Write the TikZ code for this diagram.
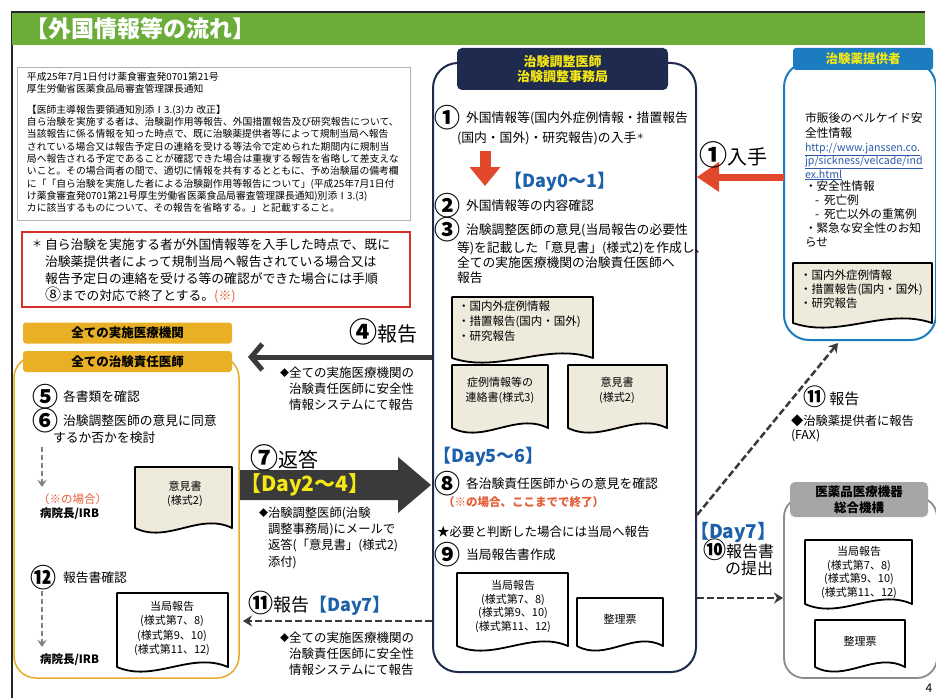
\documentclass[tikz,border=0pt]{standalone}
\usepackage{fontspec}
\setmainfont{Noto Sans CJK JP}
\usetikzlibrary{arrows.meta}
\definecolor{hdrgreen}{RGB}{108,173,58}
\definecolor{navy}{RGB}{30,43,78}
\definecolor{yel}{RGB}{245,232,20}
\definecolor{provblue}{RGB}{27,125,192}
\definecolor{dayblue}{RGB}{28,96,170}
\definecolor{orban}{RGB}{233,176,38}
\definecolor{orline}{RGB}{230,172,40}
\definecolor{redbox}{RGB}{214,48,40}
\definecolor{redarrow}{RGB}{226,72,44}
\definecolor{orred}{RGB}{228,92,52}
\definecolor{beige}{RGB}{238,235,221}
\definecolor{darkarrow}{RGB}{58,58,58}
\definecolor{grayban}{RGB}{166,166,166}
\definecolor{grayline}{RGB}{140,140,140}
\definecolor{urlblue}{RGB}{45,90,170}
\newcommand{\myfs}[2]{\fontsize{#1}{#2}\selectfont}
\newcommand{\cnum}[2]{\raisebox{-0.08em}{\fontsize{#1}{#1}\selectfont\bfseries #2}}
\newcommand{\mydoc}[5][]{\draw[#1] (#2,#3) -- (#4,#3) -- (#4,#5) .. controls ({#4-(#4-#2)/3},{#5-16}) and ({#2+(#4-#2)/3},{#5+16}) .. (#2,#5) -- cycle;}
\begin{document}
\begin{tikzpicture}[x=1pt,y=-1pt,
  every node/.style={inner sep=0pt,outer sep=0pt},
  txt/.style={anchor=west},
  blk/.style={anchor=north west,align=left},
  circ/.style={font=\myfs{26}{26}\bfseries},
  doc/.style={draw=black,line width=1.8pt,fill=beige,line join=round},
  docw/.style={draw=black,line width=1.8pt,fill=white,line join=round},
  dtext/.style={align=center,font=\myfs{11}{14.5}},
  body/.style={font=\myfs{12.8}{16}},
  gdash/.style={draw=gray,line width=1.6pt,dash pattern=on 5pt off 3pt,-{Stealth[length=7pt,width=9pt]}},
  kdash/.style={draw=darkarrow,line width=2.2pt,dash pattern=on 7pt off 3pt,-{Stealth[length=9pt,width=11pt]}},
]
\useasboundingbox (0,0) rectangle (936,698);
\fill[white] (0,0) rectangle (936,698);
\draw[line width=1.2pt,black!85] (12,698) -- (12,12) -- (925,12);
\fill[hdrgreen] (12,13) rectangle (925,45);
\node[txt,font=\myfs{23}{24}\bfseries,text=white] (title) at (25,29) {【外国情報等の流れ】};

% ---- notice box
\node[draw=gray!60,line width=0.6pt,anchor=north west,minimum width=393pt,minimum height=153pt] (noticebox) at (17,67) {};
\node[blk,font=\myfs{9.8}{12}] (notice1) at (27,72) {平成25年7月1日付け薬食審査発0701第21号\\厚生労働省医薬食品局審査管理課長通知};
\node[blk,font=\myfs{9.8}{12.3}] (notice2) at (27,105) {【医師主導報告要領通知別添Ⅰ3.(3)カ\ 改正】\\
自ら治験を実施する者は、治験副作用等報告、外国措置報告及び研究報告について、\\
当該報告に係る情報を知った時点で、既に治験薬提供者等によって規制当局へ報告\\
されている場合又は報告予定日の連絡を受ける等法令で定められた期間内に規制当\\
局へ報告される予定であることが確認できた場合は重複する報告を省略して差支えな\\
いこと。その場合両者の間で、適切に情報を共有するとともに、予め治験届の備考欄\\
に「「自ら治験を実施した者による治験副作用等報告について」(平成25年7月1日付\\
け薬食審査発0701第21号厚生労働省医薬食品局審査管理課長通知)別添Ⅰ3.(3)\\
カに該当するものについて、その報告を省略する。」と記載すること。};

% ---- red box
\node[draw=redbox,line width=2.2pt,anchor=north west,minimum width=388pt,minimum height=75pt] (redbox) at (22,232) {};
\node[font=\myfs{10}{10}] (ast) at (37,244) {＊};
\node[blk,font=\myfs{12.8}{17}] (redtext) at (45,238.6) {自ら治験を実施する者が外国情報等を入手した時点で、既に\\治験薬提供者によって規制当局へ報告されている場合又は\\報告予定日の連絡を受ける等の確認ができた場合には手順\\{\fontsize{16}{16}\selectfont ⑧}までの対応で終了とする。\textcolor{orred}{(※)}};

% ---- left group
\node[draw=orline,line width=1.5pt,rounded corners=22pt,anchor=north west,minimum width=225pt,minimum height=322pt] (sitebox) at (14,356) {};
\node[fill=orban,rounded corners=3pt,minimum width=209pt,minimum height=21pt,font=\myfs{12.5}{13}\bfseries] (site) at (127.5,333) {全ての実施医療機関};
\node[fill=orban,rounded corners=3pt,minimum width=209pt,minimum height=21pt,font=\myfs{12.5}{13}\bfseries] (pi) at (127.5,361.5) {全ての治験責任医師};
\node[circ] (c5) at (45,397) {⑤};
\node[txt,body] (t5) at (63,397) {各書類を確認};
\node[circ] (c6) at (45,421) {⑥};
\node[txt,body] (t6) at (63,421) {治験調整医師の意見に同意};
\node[txt,body] (t6b) at (53,438) {するか否かを検討};
\coordinate (d1s) at (42,447);
\coordinate (d1e) at (42,487);
\draw[gdash] (d1s) -- (d1e);
\node[txt,font=\myfs{11.5}{12},text=orred] (case1) at (38,499) {（※の場合）};
\node[txt,font=\myfs{11.5}{12}\bfseries] (irb1) at (40,514) {病院長/IRB};
\mydoc[doc]{135}{467}{232}{528}
\node[dtext] (lop) at (185,494) {意見書\\(様式2)};
\node[circ] (c12) at (43,578) {⑫};
\node[txt,body] (t12) at (63,578) {報告書確認};
\coordinate (d2s) at (42,591);
\coordinate (d2e) at (42,647);
\draw[gdash] (d2s) -- (d2e);
\node[txt,font=\myfs{11.5}{12}\bfseries] (irb2) at (40,660) {病院長/IRB};
\mydoc[docw]{117}{593}{228}{667}
\node[dtext,font=\myfs{11}{14.3}] (lrep) at (172,628.5) {当局報告\\(様式第7、8)\\(様式第9、10)\\(様式第11、12)};

% ---- center group
\node[draw=navy,line width=2pt,rounded corners=25pt,anchor=north west,minimum width=263pt,minimum height=609pt] (coord) at (433,63) {};
\node[fill=navy,rounded corners=5pt,minimum width=211pt,minimum height=42pt,font=\myfs{13}{15}\bfseries,text=yel,align=center] (coordh) at (562.5,69) {治験調整医師\\治験調整事務局};
\node[circ] (c1) at (447,118) {①};
\node[txt,body] (t1) at (466,118) {外国情報等(国内外症例情報・措置報告};
\node[txt,body] (t1b) at (457,138) {(国内・国外)・研究報告)の入手\raisebox{3pt}{\myfs{8}{8}＊}};
\coordinate (r2s) at (485,151);
\coordinate (r2e) at (485,186);
\draw[redarrow,line width=11pt,-{Triangle[length=19pt,width=31pt,line width=0pt]}] (r2s) -- (r2e);
\node[font=\myfs{18}{19}\bfseries,text=dayblue] (day01) at (560,182) {【Day0～1】};
\node[circ] (c2) at (447,206) {②};
\node[txt,body] (t2) at (466,206) {外国情報等の内容確認};
\node[circ] (c3) at (447,230) {③};
\node[txt,body] (t3) at (466,230) {治験調整医師の意見(当局報告の必要性};
\node[blk,font=\myfs{12.8}{15}] (t3b) at (457,241.6) {等)を記載した「意見書」(様式2)を作成し、\\全ての実施医療機関の治験責任医師へ\\報告};
\mydoc[doc]{452}{297}{593}{358}
\node[blk,font=\myfs{11.5}{15}] (cd1) at (458,301.3) {・国内外症例情報\\・措置報告(国内・国外)\\・研究報告};
\mydoc[doc]{452}{365}{548}{428}
\node[dtext] (cd2) at (500,390.5) {症例情報等の\\連絡書(様式3)};
\mydoc[doc]{568}{365}{667}{428}
\node[dtext] (cd3) at (617,390.5) {意見書\\(様式2)};
\node[txt,font=\myfs{18}{19}\bfseries,text=dayblue] (day56) at (433,457) {【Day5～6】};
\node[circ] (c8) at (447,484) {⑧};
\node[txt,body] (t8) at (466,484) {各治験責任医師からの意見を確認};
\node[txt,font=\myfs{11.5}{12}\bfseries,text=orred] (t8b) at (443,502) {（※の場合、ここまでで終了）};
\node[txt,font=\myfs{12.5}{13}] (star) at (437,532) {★必要と判断した場合には当局へ報告};
\node[circ] (c9) at (447,555) {⑨};
\node[txt,body] (t9) at (466,555) {当局報告書作成};
\mydoc[docw]{457}{573}{568}{646}
\node[dtext,font=\myfs{11}{13.7}] (cd4) at (513,606.5) {当局報告\\(様式第7、8)\\(様式第9、10)\\(様式第11、12)};
\mydoc[docw]{577}{598}{663}{646}
\node[dtext] (cd5) at (620,619) {整理票};

% ---- provider group
\node[draw=provblue,line width=2pt,rounded corners=25pt,anchor=north west,minimum width=152pt,minimum height=278pt] (prov) at (784,62) {};
\node[fill=provblue,rounded corners=3pt,minimum width=140pt,minimum height=22pt,font=\myfs{12.5}{13}\bfseries,text=yel] (provh) at (863,59) {治験薬提供者};
\node[blk,font=\myfs{11.8}{15}] (pv1) at (805,112.1) {市販後のベルケイド安\\全性情報};
\node[anchor=base west,font=\myfs{10.6}{12},text=urlblue] (url1) at (805,151) {\underline{http://www.janssen.co.}};
\node[anchor=base west,font=\myfs{10.6}{12},text=urlblue] (url2) at (805,164.5) {\underline{jp/sickness/velcade/ind}};
\node[anchor=base west,font=\myfs{10.6}{12},text=urlblue] (url3) at (805,178) {\underline{ex.html}};
\node[blk,font=\myfs{11.6}{14}] (pv2) at (805,181.2) {・安全性情報\\\hspace{10pt}-\hspace{5pt}死亡例\\\hspace{10pt}-\hspace{5pt}死亡以外の重篤例\\・緊急な安全性のお知\\らせ};
\mydoc[doc]{793}{263}{932}{323}
\node[blk,font=\myfs{11.5}{14}] (pd0) at (800,270.2) {・国内外症例情報\\・措置報告(国内・国外)\\・研究報告};

% ---- PMDA group
\node[draw=grayline,line width=1.8pt,rounded corners=20pt,anchor=north west,minimum width=153pt,minimum height=181pt] (pmda) at (784,497) {};
\node[fill=grayban,rounded corners=5pt,minimum width=138pt,minimum height=35pt,font=\myfs{12.5}{16}\bfseries,align=center] (pmdah) at (859,499.5) {医薬品医療機器\\総合機構};
\mydoc[docw]{805}{540}{912}{604}
\node[dtext,font=\myfs{11}{13.7}] (pd1) at (859,572.5) {当局報告\\(様式第7、8)\\(様式第9、10)\\(様式第11、12)};
\mydoc[docw]{815}{620}{905}{667}
\node[dtext] (pd2) at (860,641) {整理票};

% ---- connectors
\coordinate (r1s) at (784,177);
\coordinate (r1e) at (697,177);
\draw[redarrow,line width=7pt,-{Triangle[length=22pt,width=30pt,line width=0pt]}] (r1s) -- (r1e);
\node[txt,font=\myfs{20}{21}] (lab1) at (699,155) {\cnum{28}{①}入手};

\coordinate (a4s) at (432,357);
\coordinate (a4e) at (248,357);
\draw[darkarrow,line width=5pt,-{Straight Barb[length=11pt,width=26pt]}] (a4s) -- (a4e);
\node[txt,font=\myfs{20}{21}] (lab4) at (349,332) {\cnum{28}{④}報告};
\node[anchor=east,font=\myfs{9}{10}] (dia4) at (289,373) {◆};
\node[blk,font=\myfs{12.5}{16.3}] (rep4) at (289,366.7) {全ての実施医療機関の\\治験責任医師に安全性\\情報システムにて報告};

\coordinate (a7s) at (240,485);
\coordinate (a7e) at (431,485);
\fill[darkarrow] (240,470) -- (398,470) -- (398,457) -- (a7e) -- (398,513) -- (398,500) -- (240,500) -- cycle;
\node[txt,font=\myfs{20}{21}] (lab7) at (250,458) {\cnum{28}{⑦}返答};
\node[txt,font=\myfs{21}{22}\bfseries,text=yel] (day24) at (240,485) {【Day2～4】};
\node[anchor=east,font=\myfs{9}{10}] (dia7) at (268,513) {◆};
\node[blk,font=\myfs{12.3}{16.3}] (rep7) at (268,506.8) {治験調整医師(治験\\調整事務局)にメールで\\返答(「意見書」(様式2)\\添付)};

\coordinate (a11s) at (432,621);
\coordinate (a11e) at (243,621);
\draw[kdash] (a11s) -- (a11e);
\node[txt,font=\myfs{18}{19}] (lab11) at (248,603) {\cnum{25}{⑪}報告\textcolor{dayblue}{\bfseries【Day7】}};
\node[anchor=east,font=\myfs{9}{10}] (dia11) at (289,638) {◆};
\node[blk,font=\myfs{12.5}{16}] (rep11) at (289,631.7) {全ての実施医療機関の\\治験責任医師に安全性\\情報システムにて報告};

\coordinate (b11s) at (697,515);
\coordinate (b11e) at (838,343);
\draw[kdash,line width=2.5pt] (b11s) -- (b11e);
\node[txt,font=\myfs{15}{16}] (lab11b) at (803,397) {\cnum{23}{⑪}\ 報告};
\node[blk,font=\myfs{12.3}{14}] (rep11b) at (791,415) {◆治験薬提供者に報告\\(FAX)};

\node[txt,font=\myfs{19}{20}\bfseries,text=dayblue] (day7) at (690,532) {【Day7】};
\node[txt,font=\myfs{16}{17}] (lab10) at (703,550) {\cnum{23}{⑩}報告書};
\node[txt,font=\myfs{16}{17}] (lab10b) at (725,568) {の提出};
\coordinate (a10s) at (697,598);
\coordinate (a10e) at (783,598);
\draw[kdash] (a10s) -- (a10e);

\node[font=\myfs{12}{12}] (pnum) at (929,688) {4};
\end{tikzpicture}
\end{document}
